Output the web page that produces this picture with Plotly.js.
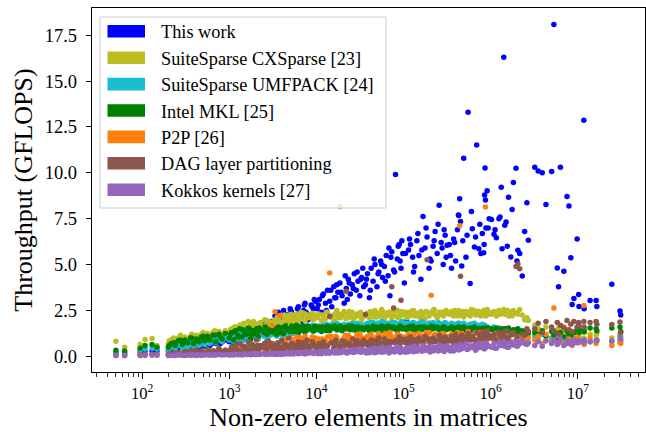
<!DOCTYPE html>
<html><head><meta charset="utf-8">
<script src="https://cdn.plot.ly/plotly-3.0.1.min.js"></script>
<style>html,body{margin:0;padding:0;background:#fff}#chart{width:646px;height:432px}</style>
</head><body><div id="chart"></div>
<script>
// Number of non-zero elements of each matrix (x)
const nnz = [
  50, 63, 95, 108, 130, 148,
  200, 215, 240, 260, 290, 310, 335, 360, 390, 420, 450, 480, 520, 560, 600, 650, 700, 760, 830, 900,
  1000, 1060, 1120, 1180, 1250, 1320, 1400, 1480, 1560, 1650, 1750, 1850, 1950, 2050, 2150, 2280, 2500, 2600, 2700, 2820, 2950, 3100,
  3200, 3350, 3500, 3650, 3800, 4000, 4200, 4400, 4600, 4800, 5000, 5300, 5600, 5900, 6200, 6500, 6800, 7100, 7400, 7800, 8200, 8700, 9200, 9700,
  10200, 10800, 11400, 12000, 12700, 13400, 14200, 15000, 15800, 16700, 17600, 18600, 19700, 20800, 22000, 23200, 24500, 25800, 27200, 28700, 30000, 31500, 33000, 34800,
  36500, 38500, 40500, 42500, 44700, 47000, 49500, 52000, 54500, 57300, 60200, 63200, 66400, 69700, 73200, 76900, 80800, 84800, 89000, 93500, 98000,
  102000, 108000, 114000, 120000, 127000, 134000, 142000, 150000, 158000, 167000, 176000, 186000, 196000, 207000, 218000, 230000, 243000, 256000, 270000, 285000, 300000, 316000,
  335000, 355000, 375000, 395000, 415000, 430000, 440000, 450000, 465000, 490000, 520000, 550000, 580000, 615000, 650000, 690000, 730000, 770000, 800000, 830000, 850000, 860000, 870000, 880000, 910000, 960000,
  1020000, 1090000, 1160000, 1240000, 1320000, 1350000, 1410000, 1450000, 1500000, 1600000, 1700000, 1820000, 1950000, 2050000, 2150000, 2300000, 2600000, 2700000,
  3200000, 3500000, 3900000, 4300000, 5000000, 5300000, 5800000, 6000000, 6300000, 6900000, 7500000, 7900000, 8300000, 8600000, 9000000, 9800000,
  10200000, 10300000, 11700000, 11800000, 13800000, 16200000, 16500000, 24500000, 30400000, 31000000,
  // further matrices
  205, 230, 275, 320, 370, 430, 500, 580, 680, 790,
  1030, 1150, 1280, 1430, 1600, 1700, 1800, 1900, 2100, 2220, 2550, 3000,
  3280, 3580, 3900, 4300, 4700, 5150, 5450, 6050, 6650, 7250, 7600, 8000, 8950, 9450,
  10500, 11700, 13000, 14600, 16200, 17100, 19100, 21400, 22600, 23800, 26500, 29300, 32200, 34000,
  37500, 41500, 46000, 51000, 56000, 61700, 67900, 71400, 78800, 86800, 91200, 95500,
  105000, 117000, 130000, 146000, 162000, 181000, 201000, 224000, 249000, 277000, 292000, 308000,
  345000, 385000, 425000, 478000, 535000, 600000, 670000, 750000, 840000, 935000,
  1120000, 1280000, 1550000, 1760000, 2000000, 2450000
];

// Throughput in GFLOPS per method
const thisWork = [
  0.2, 0.2, 0.25, 0.3, 0.3, 0.3,
  0.3, 0.35, 0.3, 0.4, 0.35, 0.45, 0.4, 0.5, 0.45, 0.55, 0.5, 0.6, 0.55, 0.7, 0.6, 0.75, 0.7, 0.85, 0.8, 0.9,
  0.8, 0.9, 0.7, 1.0, 0.85, 1.1, 0.9, 1.2, 1.0, 1.3, 0.95, 1.4, 1.1, 1.25, 1.5, 1.2, 1.4, 1.6, 1.3, 1.7, 1.5, 1.9,
  1.8, 2.2, 1.6, 2.4, 2.0, 1.5, 2.5, 2.1, 1.9, 2.3, 2.6, 2.0, 1.4, 2.2, 2.7, 2.4, 1.9, 2.5, 2.9, 2.3, 2.1, 2.8, 2.6, 3.0,
  2.6, 3.1, 2.4, 3.4, 2.9, 3.6, 3.0, 2.7, 3.8, 3.2, 3.5, 4.0, 3.3, 2.9, 3.7, 4.2, 3.4, 3.9, 4.5, 3.6, 4.1, 3.3, 4.3, 3.8,
  3.9, 4.5, 3.2, 4.8, 4.1, 5.0, 3.8, 4.6, 5.2, 4.3, 4.9, 5.5, 4.4, 3.3, 5.7, 4.7, 9.91, 5.3, 6.1, 4.8, 5.6,
  4.0, 1.93, 5.8, 6.1, 5.4, 4.9, 6.3, 5.5, 4.2, 7.62, 5.9, 6.5, 4.8, 5.2, 6.0, 6.8, 5.6, 8.24, 6.2, 5.0, 6.6, 6.05,
  6.1, 4.8, 6.4, 5.2, 6.9, 7.68, 8.59, 7.35, 4.93, 10.8, 5.4, 13.3, 3.97, 6.96, 5.96, 11.52, 5.87, 5.6, 6.70, 5.65, 8.79, 10.27, 8.52, 6.99, 9.02, 7.5,
  7.46, 6.66, 6.47, 7.5, 9.22, 5.87, 16.3, 7.14, 7.32, 8.67, 5.42, 9.47, 10.25, 5.78, 5.6, 4.38, 8.37, 6.33,
  10.3, 10.1, 10.0, 8.28, 10.07, 18.08, 4.82, 3.80, 10.3, 4.64, 8.71, 8.2, 5.38, 2.83, 3.15, 6.40,
  3.37, 2.72, 12.86, 2.6, 3.04, 3.04, 2.72, 3.93, 2.47, 2.25,
  0.35, 0.4, 0.45, 0.4, 0.5, 0.55, 0.6, 0.65, 0.75, 0.7,
  0.85, 1.0, 1.15, 0.9, 1.35, 1.1, 1.45, 1.25, 1.55, 1.3, 1.75, 1.6,
  1.7, 2.0, 1.8, 2.3, 2.1, 2.45, 1.7, 2.6, 2.2, 2.8, 2.4, 2.0, 2.7, 3.1,
  2.8, 3.3, 2.5, 3.6, 3.2, 3.9, 3.5, 4.4, 3.1, 4.0, 3.7, 4.6, 4.2, 4.8,
  4.2, 3.6, 5.3, 4.5, 5.0, 4.1, 5.9, 5.4, 4.6, 6.0, 5.2, 6.3,
  5.6, 6.4, 4.6, 6.7, 5.8, 7.0, 5.3, 6.3, 7.2, 5.9, 6.9, 5.4,
  5.5, 6.2, 7.7, 6.3, 6.6, 7.9, 6.5, 7.2, 6.1, 7.0,
  6.9, 7.6, 6.0, 8.0, 5.2, 6.8
];
const cxsparse = [
  0.83, 0.5, 0.65, 0.92, 0.98, 0.6,
  0.7, 0.9, 0.8, 1.0, 0.75, 1.05, 0.85, 1.1, 0.9, 1.15, 0.95, 1.2, 1.0, 1.25, 1.05, 1.3, 1.1, 1.35, 1.2, 1.4,
  1.3, 1.5, 1.2, 1.6, 1.35, 1.7, 1.45, 1.8, 1.5, 1.9, 1.4, 1.65, 1.55, 1.75, 1.6, 1.85, 1.5, 1.7, 1.95, 1.6, 1.8, 1.75,
  1.8, 2.0, 1.7, 2.1, 1.9, 2.2, 1.75, 2.05, 1.95, 2.25, 1.85, 2.1, 2.0, 2.3, 1.9, 2.15, 2.05, 2.35, 1.95, 2.2, 2.1, 2.3, 2.0, 2.25,
  2.1, 2.3, 1.95, 2.25, 2.05, 2.4, 2.15, 2.2, 2.0, 2.35, 2.1, 2.3, 2.2, 2.45, 2.05, 2.25, 2.15, 2.4, 2.1, 2.3, 2.2, 2.35, 2.0, 2.25,
  2.2, 2.35, 2.1, 2.4, 2.25, 2.5, 2.15, 2.3, 2.2, 2.45, 2.05, 2.35, 2.25, 2.4, 2.1, 2.3, 2.2, 2.5, 2.15, 2.35, 2.25,
  2.3, 2.1, 2.4, 2.25, 2.5, 2.2, 2.35, 2.15, 2.45, 2.3, 2.05, 2.4, 2.2, 2.35, 2.5, 2.25, 2.1, 2.4, 2.3, 2.2, 2.45, 2.35,
  2.3, 2.45, 2.2, 2.4, 2.35, 2.5, 2.25, 2.4, 2.3, 2.15, 2.45, 2.35, 2.2, 2.4, 2.5, 2.3, 2.45, 2.2, 2.35, 2.5, 2.4, 2.3, 2.45, 2.2, 2.55, 2.4,
  2.3, 2.45, 2.2, 2.5, 2.35, 2.4, 2.55, 2.3, 2.45, 2.2, 2.4, 2.5, 2.35, 2.3, 2.55, 2.25, 2.1, 1.95,
  1.7, 1.5, 1.2, 1.6, 1.4, 1.1, 1.3, 1.55, 1.0, 1.25, 1.45, 1.15, 1.35, 1.05, 1.2, 1.3,
  1.1, 1.25, 1.0, 1.3, 1.2, 1.15, 1.25, 1.0, 1.2, 1.1,
  0.85, 1.0, 1.15, 0.95, 1.2, 1.05, 1.3, 1.15, 1.4, 1.25,
  1.45, 1.6, 1.35, 1.75, 1.55, 1.85, 1.65, 1.9, 1.7, 1.8, 2.0, 1.85,
  1.95, 2.15, 1.85, 2.25, 2.05, 2.3, 1.9, 2.2, 2.4, 2.0, 2.3, 2.15, 2.35, 2.1,
  2.25, 2.0, 2.4, 2.15, 2.3, 2.5, 2.1, 2.35, 2.2, 2.45, 2.05, 2.3, 2.4, 2.15,
  2.3, 2.45, 2.15, 2.35, 2.55, 2.2, 2.4, 2.3, 2.5, 2.1, 2.35, 2.45,
  2.4, 2.2, 2.5, 2.3, 2.15, 2.45, 2.35, 2.55, 2.25, 2.4, 2.3, 2.5,
  2.35, 2.5, 2.2, 2.45, 2.3, 2.55, 2.25, 2.4, 2.5, 2.3,
  2.4, 2.3, 2.5, 2.2, 2.35, 2.0
];
const umfpack = [
  0.2, 0.2, 0.35, 0.4, 0.45, 0.4,
  0.35, 0.5, 0.4, 0.6, 0.45, 0.65, 0.5, 0.7, 0.55, 0.75, 0.6, 0.8, 0.65, 0.85, 0.7, 0.9, 0.75, 0.95, 0.8, 1.0,
  0.9, 1.1, 0.8, 1.2, 0.95, 1.25, 0.85, 1.3, 1.0, 1.35, 0.9, 1.15, 1.05, 1.3, 0.95, 1.2, 1.1, 1.4, 1.0, 1.25, 1.15, 1.35,
  1.2, 1.4, 1.1, 1.5, 1.25, 1.45, 1.15, 1.55, 1.3, 1.5, 1.2, 1.6, 1.35, 1.45, 1.25, 1.6, 1.4, 1.55, 1.3, 1.65, 1.45, 1.5, 1.35, 1.6,
  1.5, 1.65, 1.4, 1.7, 1.55, 1.6, 1.45, 1.75, 1.55, 1.65, 1.5, 1.7, 1.6, 1.75, 1.5, 1.65, 1.55, 1.8, 1.6, 1.7, 1.55, 1.75, 1.65, 1.7,
  1.7, 1.8, 1.65, 1.75, 1.85, 1.7, 1.8, 1.6, 1.75, 1.85, 1.7, 1.8, 1.65, 1.75, 1.85, 1.7, 1.8, 1.75, 1.65, 1.8, 1.75,
  1.75, 1.6, 1.8, 1.7, 1.85, 1.65, 1.75, 1.8, 1.7, 1.85, 1.6, 1.75, 1.8, 1.7, 1.85, 1.75, 1.65, 1.8, 1.7, 1.75, 1.85, 1.7,
  1.7, 1.8, 1.65, 1.75, 1.6, 1.8, 1.7, 1.75, 1.65, 1.8, 1.55, 1.7, 1.75, 1.6, 1.8, 1.65, 1.7, 1.55, 1.75, 1.6, 1.7, 1.5, 1.65, 1.45, 1.6, 1.5,
  1.5, 1.6, 1.4, 1.55, 1.3, 1.5, 1.45, 1.35, 1.5, 1.25, 1.4, 1.3, 1.45, 1.2, 1.35, 1.1, 1.25, 1.0,
  1.1, 0.95, 1.2, 0.85, 1.0, 0.9, 1.05, 0.8, 0.95, 0.75, 0.9, 0.85, 0.8, 0.95, 0.75, 0.85,
  0.8, 0.9, 0.75, 0.85, 0.8, 0.9, 0.85, 0.8, 0.9, 0.85,
  0.45, 0.55, 0.7, 0.6, 0.8, 0.65, 0.85, 0.75, 0.95, 0.9,
  1.05, 1.2, 0.9, 1.3, 1.1, 1.4, 1.0, 1.25, 1.35, 1.15, 1.45, 1.3,
  1.3, 1.45, 1.2, 1.55, 1.35, 1.6, 1.25, 1.5, 1.65, 1.4, 1.55, 1.45, 1.7, 1.5,
  1.6, 1.45, 1.75, 1.55, 1.65, 1.8, 1.5, 1.7, 1.6, 1.75, 1.55, 1.8, 1.65, 1.7,
  1.75, 1.85, 1.65, 1.8, 1.9, 1.7, 1.8, 1.75, 1.85, 1.7, 1.8, 1.9,
  1.8, 1.7, 1.85, 1.75, 1.9, 1.65, 1.8, 1.75, 1.85, 1.7, 1.8, 1.75,
  1.75, 1.65, 1.8, 1.7, 1.6, 1.75, 1.65, 1.55, 1.7, 1.5,
  1.45, 1.35, 1.5, 1.3, 1.4, 1.2
];
const intelMkl = [
  0.33, 0.3, 0.45, 0.6, 0.65, 0.5,
  0.5, 0.7, 0.6, 0.85, 0.65, 0.9, 0.75, 1.0, 0.7, 0.95, 0.8, 1.05, 0.85, 1.1, 0.9, 1.15, 0.8, 1.2, 0.95, 1.25,
  1.0, 1.3, 0.9, 1.4, 1.15, 1.5, 1.05, 1.35, 1.2, 1.55, 0.95, 1.4, 1.25, 1.5, 1.1, 1.45, 1.3, 1.6, 1.2, 1.4, 1.35, 1.55,
  1.3, 1.5, 1.2, 1.6, 1.4, 1.55, 1.25, 1.65, 1.45, 1.5, 1.35, 1.6, 1.4, 1.7, 1.3, 1.55, 1.45, 1.65, 1.35, 1.6, 1.5, 1.55, 1.4, 1.65,
  1.45, 1.6, 1.35, 1.55, 1.5, 1.65, 1.4, 1.6, 1.55, 1.5, 1.45, 1.65, 1.4, 1.55, 1.6, 1.5, 1.45, 1.65, 1.55, 1.4, 1.6, 1.5, 1.55, 1.45,
  1.5, 1.6, 1.4, 1.55, 1.65, 1.45, 1.6, 1.5, 1.55, 1.4, 1.6, 1.5, 1.65, 1.45, 1.55, 1.6, 1.5, 1.4, 1.55, 1.6, 1.5,
  1.55, 1.45, 1.6, 1.5, 1.65, 1.4, 1.55, 1.6, 1.5, 1.45, 1.6, 1.55, 1.4, 1.65, 1.5, 1.55, 1.6, 1.45, 1.5, 1.6, 1.55, 1.5,
  1.5, 1.6, 1.45, 1.55, 1.4, 1.6, 1.5, 1.55, 1.45, 1.6, 1.35, 1.5, 1.55, 1.4, 1.6, 1.45, 1.5, 1.35, 1.55, 1.45, 1.5, 1.4, 1.55, 1.3, 1.5, 1.45,
  1.5, 1.4, 1.55, 1.35, 1.5, 1.45, 1.3, 1.5, 1.4, 1.55, 1.25, 1.45, 1.35, 1.5, 1.2, 1.4, 1.3, 1.25,
  1.3, 1.2, 1.4, 1.1, 1.35, 1.15, 1.25, 0.9, 1.3, 1.05, 1.4, 1.2, 1.1, 0.7, 1.3, 1.5,
  1.5, 1.3, 1.45, 1.35, 1.55, 1.5, 1.4, 1.55, 1.6, 1.35,
  0.6, 0.75, 0.9, 0.8, 1.0, 0.85, 1.1, 0.95, 1.15, 1.05,
  1.2, 1.35, 1.05, 1.45, 1.25, 1.5, 1.15, 1.4, 1.3, 1.55, 1.35, 1.5,
  1.4, 1.55, 1.3, 1.6, 1.45, 1.65, 1.35, 1.5, 1.6, 1.4, 1.55, 1.65, 1.45, 1.6,
  1.5, 1.6, 1.4, 1.55, 1.65, 1.45, 1.6, 1.5, 1.55, 1.65, 1.45, 1.6, 1.5, 1.55,
  1.55, 1.45, 1.6, 1.5, 1.65, 1.55, 1.45, 1.6, 1.5, 1.55, 1.65, 1.5,
  1.5, 1.6, 1.45, 1.55, 1.6, 1.5, 1.45, 1.6, 1.55, 1.5, 1.6, 1.45,
  1.55, 1.45, 1.6, 1.5, 1.4, 1.55, 1.45, 1.5, 1.4, 1.55,
  1.45, 1.35, 1.5, 1.3, 1.45, 1.35
];
const p2p = [
  0.05, 0.05, 0.1, 0.1, 0.12, 0.1,
  0.1, 0.12, 0.08, 0.15, 0.1, 0.18, 0.12, 0.2, 0.15, 0.22, 0.1, 0.25, 0.15, 0.2, 0.12, 0.28, 0.18, 0.25, 0.2, 0.3,
  0.2, 0.35, 0.15, 0.4, 0.25, 0.45, 0.2, 0.5, 0.3, 0.35, 0.25, 0.55, 0.3, 0.45, 0.2, 0.5, 0.35, 0.6, 0.3, 0.45, 0.4, 1.68,
  0.5, 2.43, 0.7, 0.4, 2.23, 0.8, 0.55, 0.9, 0.45, 1.0, 0.6, 0.85, 0.5, 1.05, 0.7, 0.65, 0.95, 0.5, 1.1, 0.75, 0.6, 0.9, 0.8, 1.0,
  0.7, 0.95, 0.6, 0.85, 0.8, 1.05, 4.55, 0.9, 0.75, 1.1, 0.7, 8.17, 0.85, 1.0, 0.6, 1.15, 0.8, 0.95, 0.7, 1.05, 0.85, 1.2, 0.75, 0.9,
  0.85, 1.1, 0.7, 1.2, 0.9, 1.0, 0.75, 1.25, 0.95, 1.05, 0.8, 1.15, 0.9, 1.3, 0.85, 1.0, 0.95, 1.2, 0.8, 1.1, 0.9,
  1.0, 0.8, 1.2, 0.9, 1.1, 0.85, 1.0, 1.25, 0.95, 1.05, 0.8, 1.15, 1.3, 3.33, 1.0, 1.2, 0.85, 1.1, 0.95, 1.25, 0.9, 1.05,
  1.0, 1.2, 0.85, 1.1, 1.3, 0.9, 7.12, 1.05, 1.25, 0.8, 1.15, 1.35, 0.95, 1.1, 1.2, 0.85, 1.3, 1.0, 1.15, 0.9, 1.25, 1.05, 8.14, 1.2, 0.95, 1.1,
  1.1, 0.9, 1.25, 0.8, 1.0, 1.2, 0.85, 1.3, 0.95, 1.1, 0.8, 1.2, 0.9, 1.05, 0.75, 1.15, 0.85, 1.0,
  0.9, 1.1, 0.7, 1.2, 0.85, 2.63, 0.75, 1.15, 0.8, 1.6, 0.7, 0.95, 0.85, 0.6, 0.9, 1.0,
  0.75, 0.8, 2.77, 0.65, 1.0, 0.7, 0.85, 0.6, 0.74, 0.7,
  0.15, 0.1, 0.2, 0.15, 0.25, 0.12, 0.22, 0.18, 0.3, 0.25,
  0.3, 0.25, 0.4, 0.35, 0.5, 0.3, 0.45, 0.55, 0.4, 0.6, 0.5, 0.7,
  0.6, 0.75, 0.5, 0.85, 0.65, 0.95, 0.55, 0.8, 1.0, 0.7, 0.9, 0.6, 1.05, 0.85,
  0.8, 0.95, 0.7, 1.1, 0.85, 1.0, 0.75, 1.15, 0.9, 1.05, 0.8, 1.2, 0.95, 1.0,
  0.9, 1.05, 0.8, 1.15, 0.95, 1.25, 0.85, 1.1, 1.0, 1.2, 0.9, 1.05,
  1.05, 0.9, 1.2, 0.95, 1.1, 1.3, 0.85, 1.15, 1.0, 1.25, 0.95, 1.1,
  1.1, 0.95, 1.25, 1.0, 1.15, 0.9, 1.3, 1.05, 1.2, 0.95,
  1.0, 1.15, 0.9, 1.25, 0.85, 1.05
];
const dagLayer = [
  0.05, 0.05, 0.08, 0.1, 0.1, 0.1,
  0.1, 0.15, 0.1, 0.2, 0.12, 0.25, 0.15, 0.3, 0.1, 0.35, 0.2, 0.28, 0.15, 0.4, 0.22, 0.3, 0.18, 0.45, 0.25, 0.35,
  0.3, 0.5, 0.2, 0.6, 0.35, 0.7, 0.25, 0.55, 0.4, 0.8, 0.3, 0.65, 0.45, 0.9, 0.35, 0.6, 0.5, 0.75, 0.4, 0.85, 0.55, 0.7,
  0.4, 0.6, 0.3, 0.75, 0.5, 0.9, 0.35, 0.65, 0.55, 1.0, 0.4, 0.7, 0.6, 0.45, 0.8, 0.5, 0.35, 0.75, 0.6, 0.9, 0.45, 0.55, 0.7, 0.5,
  0.5, 0.7, 0.4, 0.8, 0.6, 0.55, 2.19, 0.75, 0.45, 0.9, 0.65, 0.5, 0.85, 0.6, 3.55, 0.7, 0.55, 0.95, 0.5, 0.8, 0.65, 0.75, 0.6, 0.9,
  2.28, 0.75, 0.5, 0.9, 0.6, 0.85, 0.55, 1.0, 0.7, 0.65, 0.95, 0.6, 0.8, 0.7, 3.79, 2.64, 0.85, 0.75, 1.05, 3.06, 0.9,
  0.8, 0.95, 0.6, 1.05, 0.75, 0.9, 0.65, 1.0, 0.85, 0.7, 1.1, 5.27, 0.95, 0.75, 1.0, 0.8, 0.85, 1.15, 0.7, 0.9, 1.05, 0.8,
  0.9, 1.1, 0.75, 1.2, 0.85, 1.0, 0.95, 4.36, 1.15, 0.8, 1.05, 1.25, 0.9, 1.1, 0.95, 1.3, 0.85, 1.2, 1.0, 1.35, 1.1, 0.95, 1.25, 1.05, 1.4, 1.15,
  1.0, 1.2, 0.85, 1.3, 1.1, 0.95, 1.25, 1.05, 1.4, 0.9, 1.15, 1.3, 4.9, 5.04, 4.78, 1.2, 1.5, 1.35,
  1.5, 1.8, 1.3, 1.9, 1.6, 1.4, 1.85, 1.2, 1.7, 1.55, 1.95, 1.45, 1.75, 1.35, 1.9, 1.6,
  1.85, 1.7, 1.9, 1.6, 1.85, 1.9, 1.75, 1.74, 1.87, 1.3,
  0.15, 0.2, 0.12, 0.25, 0.18, 0.3, 0.2, 0.35, 0.25, 0.3,
  0.35, 0.45, 0.3, 0.55, 0.4, 0.65, 0.35, 0.5, 0.6, 0.45, 0.7, 0.55,
  0.45, 0.55, 0.4, 0.65, 0.5, 0.7, 0.45, 0.6, 0.75, 0.5, 0.65, 0.55, 0.8, 0.6,
  0.55, 0.65, 0.5, 0.75, 0.6, 0.7, 0.55, 0.8, 0.65, 0.7, 0.6, 0.85, 0.7, 0.75,
  0.65, 0.75, 0.6, 0.8, 0.7, 0.9, 0.65, 0.8, 0.75, 0.85, 0.7, 0.95,
  0.75, 0.85, 0.7, 0.9, 0.8, 0.95, 0.75, 0.9, 0.85, 1.0, 0.8, 0.9,
  0.85, 0.95, 0.8, 1.0, 0.9, 1.05, 0.85, 1.1, 0.95, 1.0,
  0.95, 1.1, 1.0, 1.2, 1.05, 1.15
];
const kokkos = [
  0.05, 0.05, 0.05, 0.05, 0.06, 0.06,
  0.05, 0.06, 0.05, 0.07, 0.06, 0.05, 0.08, 0.06, 0.07, 0.05, 0.08, 0.06, 0.07, 0.09, 0.06, 0.08, 0.07, 0.1, 0.08, 0.09,
  0.08, 0.1, 0.07, 0.12, 0.09, 0.11, 0.08, 0.13, 0.1, 0.12, 0.09, 0.14, 0.11, 0.1, 0.13, 0.12, 0.15, 0.11, 0.14, 0.12, 0.16, 0.13,
  0.12, 0.15, 0.1, 0.18, 0.14, 0.16, 0.12, 0.2, 0.15, 0.17, 0.13, 0.22, 0.16, 0.19, 0.14, 0.21, 0.17, 0.24, 0.15, 0.2, 0.18, 0.25, 0.16, 0.22,
  0.18, 0.25, 0.15, 0.28, 0.2, 0.3, 0.17, 0.26, 0.22, 0.32, 0.19, 0.27, 0.24, 0.35, 0.2, 0.3, 0.25, 0.38, 0.22, 0.33, 0.27, 0.4, 0.24, 0.35,
  0.25, 0.35, 0.2, 0.4, 0.3, 0.45, 0.22, 0.38, 0.28, 0.5, 0.25, 0.42, 0.33, 0.48, 0.27, 0.4, 0.3, 0.52, 0.35, 0.45, 0.3,
  0.3, 0.45, 0.25, 0.5, 0.35, 0.55, 0.28, 0.42, 0.38, 0.6, 0.32, 0.48, 0.4, 0.55, 0.3, 0.5, 0.45, 0.62, 0.35, 0.52, 0.42, 0.58,
  0.35, 0.5, 0.3, 0.6, 0.45, 0.55, 0.38, 0.65, 0.42, 0.5, 0.7, 0.4, 0.58, 0.48, 0.62, 0.45, 0.72, 0.5, 0.55, 0.68, 0.42, 0.6, 0.75, 0.5, 0.65, 0.55,
  0.5, 0.7, 0.45, 0.75, 0.6, 0.65, 0.8, 0.55, 0.72, 0.5, 0.78, 0.62, 0.85, 0.58, 0.7, 0.9, 0.65, 0.75,
  0.6, 0.8, 0.55, 0.85, 0.7, 0.9, 0.65, 0.75, 0.95, 0.6, 0.85, 0.7, 0.8, 0.65, 0.9, 0.75,
  0.8, 0.85, 0.75, 0.9, 0.8, 0.85, 0.9, 0.84, 1.05, 0.95,
  0.05, 0.06, 0.07, 0.06, 0.08, 0.07, 0.08, 0.09, 0.08, 0.1,
  0.09, 0.11, 0.1, 0.12, 0.11, 0.13, 0.1, 0.12, 0.14, 0.11, 0.13, 0.15,
  0.13, 0.15, 0.12, 0.17, 0.14, 0.18, 0.13, 0.16, 0.19, 0.15, 0.2, 0.17, 0.21, 0.18,
  0.15, 0.2, 0.17, 0.22, 0.18, 0.24, 0.2, 0.26, 0.19, 0.25, 0.21, 0.28, 0.23, 0.27,
  0.18, 0.24, 0.2, 0.28, 0.22, 0.3, 0.19, 0.26, 0.24, 0.32, 0.21, 0.29,
  0.22, 0.3, 0.25, 0.35, 0.28, 0.4, 0.24, 0.33, 0.3, 0.42, 0.27, 0.38,
  0.3, 0.4, 0.35, 0.45, 0.38, 0.5, 0.33, 0.48, 0.42, 0.55,
  0.45, 0.6, 0.5, 0.65, 0.55, 0.7
];

const seriesNames = ['This work', 'SuiteSparse CXSparse [23]', 'SuiteSparse UMFPACK [24]', 'Intel MKL [25]', 'P2P [26]', 'DAG layer partitioning', 'Kokkos kernels [27]'];
const yTickVals = [0, 2.5, 5, 7.5, 10, 12.5, 15, 17.5];
const xTickVals = [1e2, 1e3, 1e4, 1e5, 1e6, 1e7];
const xTickText = ['10<sup>2</sup>', '10<sup>3</sup>', '10<sup>4</sup>', '10<sup>5</sup>', '10<sup>6</sup>', '10<sup>7</sup>'];

const seriesValues = [thisWork, cxsparse, umfpack, intelMkl, p2p, dagLayer, kokkos];
const colors = ['#0000ff', '#bcbd22', '#17becf', '#008000', '#ff7f0e', '#8c564b', '#9467bd'];
seriesValues.forEach((s, i) => { if (s.length !== nnz.length) throw new Error(seriesNames[i] + ' length ' + s.length + ' vs ' + nnz.length); });

const FONT = '"Liberation Serif", "Times New Roman", serif';
// plot area in pixels
const W = 646, H = 432, L = 92, R = 645, T = 8, B = 372;
const px = x => (x - L) / (R - L);
const py = y => (B - y) / (B - T);

const traces = seriesValues.map((vals, i) => ({
  type: 'scatter', mode: 'markers', name: seriesNames[i],
  x: nnz, y: vals,
  marker: {size: 5.5, color: colors[i], line: {width: 0}},
  showlegend: false, hoverinfo: 'skip', cliponaxis: true
}));

const minorVals = [];
for (let k = 1; k <= 7; k++) for (let d = 2; d <= 9; d++) minorVals.push(d * Math.pow(10, k));

const shapes = [{
  type: 'rect', xref: 'paper', yref: 'paper', layer: 'above',
  x0: px(100), x1: px(386), y0: py(208), y1: py(17),
  fillcolor: 'rgba(255,255,255,0.8)', line: {color: '#cccccc', width: 1}
}];
const annotations = [];
seriesNames.forEach((n, i) => {
  const cy = 31.3 + i * 26.4;
  shapes.push({type: 'rect', xref: 'paper', yref: 'paper', layer: 'above',
    x0: px(107.5), x1: px(145), y0: py(cy + 6.3), y1: py(cy - 6.3),
    fillcolor: colors[i], line: {width: 0}});
  annotations.push({xref: 'paper', yref: 'paper', x: px(159), y: py(cy + 1),
    xanchor: 'left', yanchor: 'middle', showarrow: false, text: n,
    font: {family: FONT, size: 18.3, color: '#000'}});
});

const layout = {
  width: W, height: H,
  margin: {l: L, r: W - R, t: T, b: H - B, pad: 0},
  paper_bgcolor: '#fff', plot_bgcolor: '#fff',
  font: {family: FONT, color: '#000'},
  xaxis: {
    type: 'log', range: [1.425, 7.77],
    tickmode: 'array', tickvals: xTickVals, ticktext: xTickText,
    ticks: 'outside', ticklen: 6, tickwidth: 1, tickcolor: '#000',
    minor: {tickmode: 'array', tickvals: minorVals, ticks: 'outside', ticklen: 3.5, tickwidth: 0.8, tickcolor: '#000', showgrid: false},
    showline: true, linecolor: '#000', linewidth: 1.2, mirror: true,
    showgrid: false, zeroline: false,
    tickfont: {family: FONT, size: 16.5, color: '#000'},
    title: {text: 'Non-zero elements in matrices', font: {family: FONT, size: 26, color: '#000'}, standoff: 6}
  },
  yaxis: {
    range: [-0.85, 18.98],
    tickmode: 'array', tickvals: yTickVals, ticktext: yTickVals.map(v => v.toFixed(1)),
    ticks: 'outside', ticklen: 5, tickwidth: 1, tickcolor: '#000',
    ticklabelstandoff: 5,
    showline: true, linecolor: '#000', linewidth: 1.2, mirror: true,
    showgrid: false, zeroline: false,
    tickfont: {family: FONT, size: 18.5, color: '#000'},
    title: {text: 'Throughput (GFLOPS)', font: {family: FONT, size: 26, color: '#000'}, standoff: 4}
  },
  shapes: shapes,
  annotations: annotations,
  showlegend: false
};

Plotly.newPlot('chart', traces, layout, {displayModeBar: false, staticPlot: true});
</script>
</body></html>
